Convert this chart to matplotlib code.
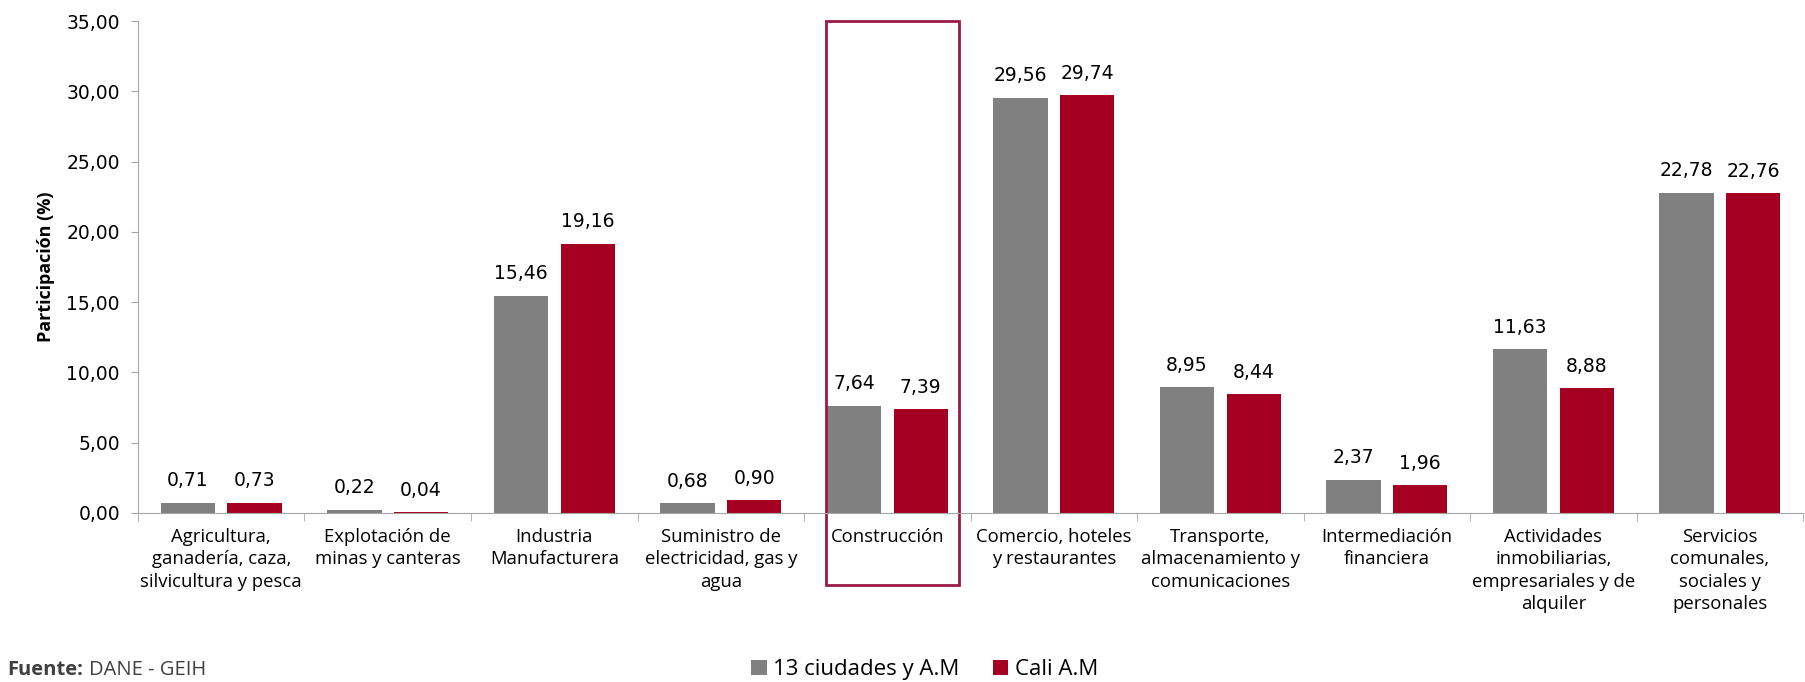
import matplotlib
matplotlib.use('Agg')
import matplotlib.pyplot as plt
import matplotlib.transforms as mtransforms
from matplotlib.patches import Rectangle
import numpy as np

categories = [
    'Agricultura,\nganadería, caza,\nsilvicultura y pesca',
    'Explotación de\nminas y canteras',
    'Industria\nManufacturera',
    'Suministro de\nelectricidad, gas y\nagua',
    'Construcción',
    'Comercio, hoteles\ny restaurantes',
    'Transporte,\nalmacenamiento y\ncomunicaciones',
    'Intermediación\nfinanciera',
    'Actividades\ninmobiliarias,\nempresariales y de\nalquiler',
    'Servicios\ncomunales,\nsociales y\npersonales',
]
ciudades_13 = [0.71, 0.22, 15.46, 0.68, 7.64, 29.56, 8.95, 2.37, 11.63, 22.78]
cali = [0.73, 0.04, 19.16, 0.90, 7.39, 29.74, 8.44, 1.96, 8.88, 22.76]
series_names = ['13 ciudades y A.M', 'Cali A.M']
yticks = [0, 5, 10, 15, 20, 25, 30, 35]

GRAY = '#808080'
RED = '#A50021'
NUM_FONT = ['DejaVu Sans']

plt.rcParams['font.family'] = ['Open Sans', 'DejaVu Sans']

fig = plt.figure(figsize=(18.06, 6.82), dpi=100)
ax = fig.add_axes([0.0764, 0.248, 0.922, 0.721])

x = np.arange(len(categories))
w = 0.325
b1 = ax.bar(x - 0.2, ciudades_13, w, color=GRAY, label=series_names[0])
b2 = ax.bar(x + 0.2, cali, w, color=RED, label=series_names[1])

fmt = lambda v: f'{v:.2f}'.replace('.', ',')
for bars, vals in ((b1, ciudades_13), (b2, cali)):
    for r, v in zip(bars, vals):
        ax.annotate(fmt(v), (r.get_x() + r.get_width() / 2, v), xytext=(0, 9),
                    textcoords='offset points', ha='center', va='bottom',
                    fontsize=13.5, family=NUM_FONT)

ax.set_xlim(-0.5, len(categories) - 0.5)
ax.set_ylim(0, 35)
ax.set_yticks(yticks)
ax.set_yticklabels([fmt(v) for v in yticks], fontsize=13.5, family=NUM_FONT)
ax.set_xticks(x)
ax.set_xticklabels(categories, fontsize=13.3, linespacing=1.3)
ax.tick_params(axis='x', length=0, pad=11)
ax.set_xticks(np.arange(-0.5, len(categories), 1), minor=True)
ax.tick_params(axis='x', which='minor', length=6, color='#a6a6a6')
ax.tick_params(axis='y', length=5, color='#a6a6a6', pad=8)
for s in ('top', 'right'):
    ax.spines[s].set_visible(False)
for s in ('left', 'bottom'):
    ax.spines[s].set_color('#a6a6a6')
ax.set_ylabel('Participación (%)', fontsize=13, fontweight='bold', labelpad=8)

# highlight box on Construcción
trans = mtransforms.blended_transform_factory(ax.transData, ax.transAxes)
ax.add_patch(Rectangle((3.63, -0.1475), 0.80, 1.1475, transform=trans, fill=False,
                       edgecolor='#9B1B44', linewidth=2, clip_on=False))

fig.legend(handles=[b1, b2], loc='center', bbox_to_anchor=(0.512, 0.018), ncol=2,
           frameon=False, fontsize=16, handlelength=0.7,
           handleheight=0.7, handletextpad=0.3, columnspacing=1.5)
t = fig.text(0.004, 0.018, 'Fuente:', fontsize=14.5, fontweight='bold', va='center',
             color='#404040')
fig.canvas.draw()
bb = t.get_window_extent().transformed(fig.transFigure.inverted())
fig.text(bb.x1 + 0.003, 0.018, 'DANE - GEIH', fontsize=14.5, va='center',
         color='#404040')

fig.savefig('out.png', dpi=100)
